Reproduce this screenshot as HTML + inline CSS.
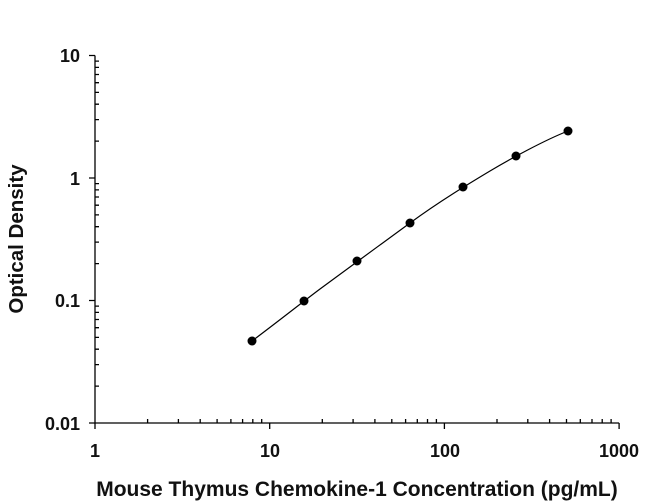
<!DOCTYPE html>
<html><head><style>body{margin:0;background:#fff}svg{display:block}</style></head><body>
<svg width="650" height="503" xmlns="http://www.w3.org/2000/svg" font-family="'Liberation Sans',sans-serif">
<g stroke="#000" stroke-width="1.3" fill="none">
<path d="M95,55.5 V423 H619.1"/>
<path d="M95,423v6 M269.7,423v6 M444.4,423v6 M619.1,423v6 M95,423h-6 M95,300.5h-6 M95,178h-6 M95,55.5h-6"/>
<path d="M147.6,423v-4 M178.4,423v-4 M200.2,423v-4 M217.1,423v-4 M230.9,423v-4 M242.6,423v-4 M252.8,423v-4 M261.7,423v-4
M322.3,423v-4 M353.1,423v-4 M374.9,423v-4 M391.8,423v-4 M405.6,423v-4 M417.3,423v-4 M427.5,423v-4 M436.4,423v-4
M497,423v-4 M527.8,423v-4 M549.6,423v-4 M566.5,423v-4 M580.3,423v-4 M592,423v-4 M602.2,423v-4 M611.1,423v-4
M95,386.1h4 M95,364.6h4 M95,349.2h4 M95,337.4h4 M95,327.7h4 M95,319.5h4 M95,312.4h4 M95,306.1h4
M95,263.6h4 M95,242.1h4 M95,226.7h4 M95,214.9h4 M95,205.2h4 M95,197h4 M95,189.9h4 M95,183.6h4
M95,141.1h4 M95,119.6h4 M95,104.2h4 M95,92.4h4 M95,82.7h4 M95,74.5h4 M95,67.4h4 M95,61.1h4"/>
</g>
<path d="M252,341 C280,320 300,304 320,289 S380,245 410,223 S470,183 490,171 S545,140 568,131" stroke="#000" stroke-width="1.2" fill="none"/>
<g fill="#000">
<circle cx="252" cy="341" r="4.5"/><circle cx="304" cy="301" r="4.5"/><circle cx="357" cy="261" r="4.5"/><circle cx="410" cy="223" r="4.5"/><circle cx="463" cy="187" r="4.5"/><circle cx="516" cy="156" r="4.5"/><circle cx="568" cy="131" r="4.5"/>
</g>
<g font-size="18" font-weight="bold" fill="#111">
<text x="80" y="62" text-anchor="end">10</text>
<text x="80" y="185" text-anchor="end">1</text>
<text x="80" y="307" text-anchor="end">0.1</text>
<text x="80" y="430" text-anchor="end">0.01</text>
<text x="95" y="457" text-anchor="middle">1</text>
<text x="270" y="457" text-anchor="middle">10</text>
<text x="445" y="457" text-anchor="middle">100</text>
<text x="619" y="457" text-anchor="middle">1000</text>
<text x="357" y="496" text-anchor="middle" font-size="21">Mouse Thymus Chemokine-1 Concentration (pg/mL)</text>
<text transform="translate(23,239) rotate(-90)" text-anchor="middle" font-size="20.5">Optical Density</text>
</g>
</svg>
</body></html>
